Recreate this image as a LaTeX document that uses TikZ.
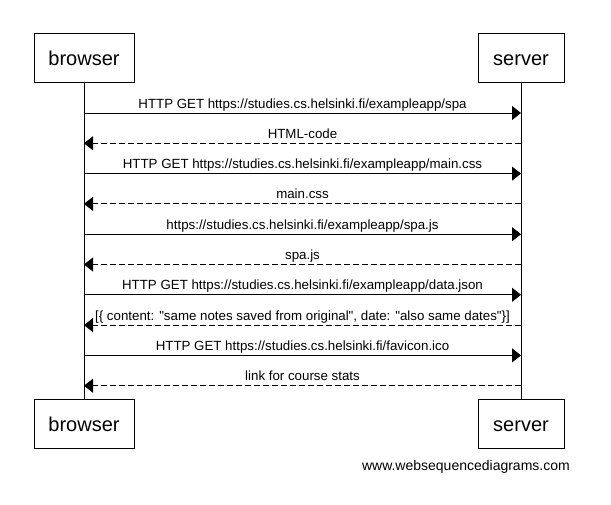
\documentclass[tikz,border=0pt]{standalone}
\usepackage{fontspec}
\setmainfont{Liberation Sans}[Ligatures=TeXOff]
\usetikzlibrary{arrows.meta}

\begin{document}
\begin{tikzpicture}[x=1pt,y=-1pt,
  actor/.style={draw,line width=1pt,inner sep=0,minimum height=49pt,text height=15pt,text depth=0pt,font=\fontsize{20}{24}\selectfont},
  call/.style={line width=1pt,-{Triangle[length=9pt,width=14pt]}},
  reply/.style={call,dash pattern=on 6pt off 3pt},
  msg/.style={anchor=base,yshift=5pt,inner sep=0,font=\fontsize{13.3}{15}\selectfont}]
\useasboundingbox (0,0) rectangle (611,504);
% participants
\node[actor,minimum width=100pt] (browser) at (84,57.5) {browser};
\node[actor,minimum width=86pt] (server) at (521,57.5) {server};
\node[actor,minimum width=100pt] (browserend) at (84,423.5) {browser};
\node[actor,minimum width=86pt] (serverend) at (521,423.5) {server};
\draw[line width=1pt] (browser) -- (browserend);
\draw[line width=1pt] (server) -- (serverend);
% message ends
\coordinate (b1) at (84,113);    \coordinate (s1) at (521,113);
\coordinate (b2) at (84,143.3);  \coordinate (s2) at (521,143.3);
\coordinate (b3) at (84,173.6);  \coordinate (s3) at (521,173.6);
\coordinate (b4) at (84,203.9);  \coordinate (s4) at (521,203.9);
\coordinate (b5) at (84,234.2);  \coordinate (s5) at (521,234.2);
\coordinate (b6) at (84,264.5);  \coordinate (s6) at (521,264.5);
\coordinate (b7) at (84,294.8);  \coordinate (s7) at (521,294.8);
\coordinate (b8) at (84,325.1);  \coordinate (s8) at (521,325.1);
\coordinate (b9) at (84,355.4);  \coordinate (s9) at (521,355.4);
\coordinate (b10) at (84,385.7); \coordinate (s10) at (521,385.7);
% messages
\draw[call] (b1) -- node[msg] (m1) {HTTP GET https://studies.cs.helsinki.fi/exampleapp/spa} (s1);
\draw[reply] (s2) -- node[msg] (m2) {HTML-code} (b2);
\draw[call] (b3) -- node[msg] (m3) {HTTP GET https://studies.cs.helsinki.fi/exampleapp/main.css} (s3);
\draw[reply] (s4) -- node[msg] (m4) {main.css} (b4);
\draw[call] (b5) -- node[msg] (m5) {https://studies.cs.helsinki.fi/exampleapp/spa.js} (s5);
\draw[reply] (s6) -- node[msg] (m6) {spa.js} (b6);
\draw[call] (b7) -- node[msg] (m7) {HTTP GET https://studies.cs.helsinki.fi/exampleapp/data.json} (s7);
\draw[reply] (s8) -- node[msg] (m8) {[\{ content: "same notes saved from original", date: "also same dates"\}]} (b8);
\draw[call] (b9) -- node[msg] (m9) {HTTP GET https://studies.cs.helsinki.fi/favicon.ico} (s9);
\draw[reply] (s10) -- node[msg] (m10) {link for course stats} (b10);
% footer
\node[anchor=base east,inner sep=0,font=\fontsize{14}{16}\selectfont] (site) at (570,470) {www.websequencediagrams.com};
\end{tikzpicture}
\end{document}
